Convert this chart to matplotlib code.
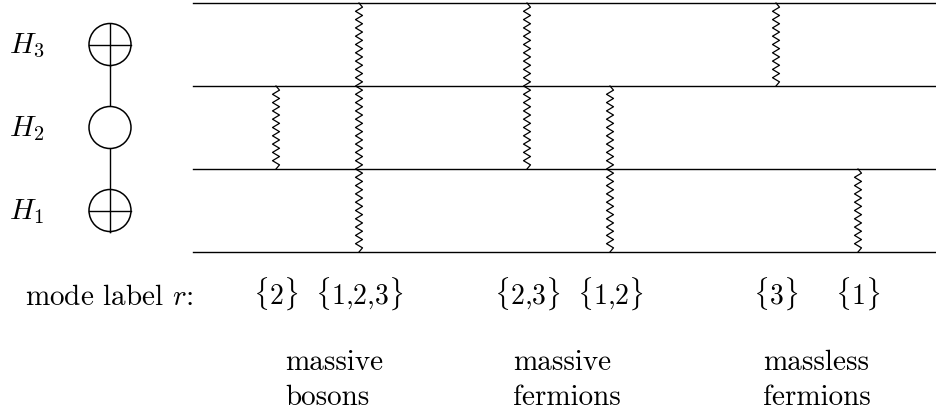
import numpy as np
import matplotlib.pyplot as plt
from matplotlib.patches import Ellipse

plt.rcParams['mathtext.fontset'] = 'cm'
plt.rcParams['font.family'] = 'cmr10'
plt.rcParams['axes.formatter.use_mathtext'] = True

# hierarchy rows (bottom to top) and whether the node has a cross
higgs = ["H_1", "H_2", "H_3"]
crossed = [True, False, True]

# modes: label set r, x position of the zigzag
mode_sets = [(2,), (1, 2, 3), (2, 3), (1, 2), (3,), (1,)]
mode_x = [276, 359, 527, 610, 776, 858]

groups = ["massive\nbosons", "massive\nfermions", "massless\nfermions"]
group_x = [285, 513, 763]

PX = 83.0  # pixels per level


def lev(py):
    # pixel row -> level units (line k sits at pixel 252 - 83k)
    return (252 - py) / PX


fig = plt.figure(figsize=(9.36, 4.16), dpi=100)
ax = fig.add_axes([0, 0, 1, 1])
ax.set_xlim(0, 936)
ax.set_ylim(lev(416), lev(0))
ax.axis("off")

# horizontal level lines
for k in range(len(higgs) + 1):
    ax.plot([193, 936], [k, k], color="black", lw=1.0)


def zigzag(x, y0, y1, per_level=10, amp=3.5):
    n = int(round((y1 - y0) * per_level)) * 2
    ys = np.linspace(y0, y1, n + 1)
    xs = np.full_like(ys, x, dtype=float)
    xs[1:-1] += amp * np.where(np.arange(1, n) % 2 == 1, 1, -1)
    return xs, ys


for r, x in zip(mode_sets, mode_x):
    xs, ys = zigzag(x, min(r) - 1, max(r))
    ax.plot(xs, ys, color="black", lw=0.9)
    lab = r"$\{" + "{,}".join(str(v) for v in r) + r"\}$"
    ax.text(x, lev(305), lab, fontsize=20, ha="center", va="baseline")

# Higgs chain
cx, rad = 110, 21
h = rad / PX
ax.plot([cx, cx], [2.5 + h, 0.5 - h], color="black", lw=1.0, zorder=1)
for i, (name, cr) in enumerate(zip(higgs, crossed)):
    cy = i + 0.5
    ax.add_patch(Ellipse((cx, cy), 2 * rad, 2 * h, facecolor="white",
                         edgecolor="black", lw=1.1, zorder=2))
    if cr:
        ax.plot([cx - rad, cx + rad], [cy, cy], color="black", lw=1.0, zorder=3)
        ax.plot([cx, cx], [cy - h, cy + h], color="black", lw=1.0, zorder=3)
    ax.text(9, cy - 9 / PX, "$" + name + "$", fontsize=21,
            ha="left", va="baseline")

ax.text(25, lev(305), "mode label $r$:", fontsize=21, ha="left", va="baseline")
for g, x in zip(groups, group_x):
    top, bot = g.split("\n")
    ax.text(x, lev(370), top, fontsize=21, ha="left", va="baseline")
    ax.text(x, lev(405), bot, fontsize=21, ha="left", va="baseline")

fig.savefig("out.png", dpi=100)
